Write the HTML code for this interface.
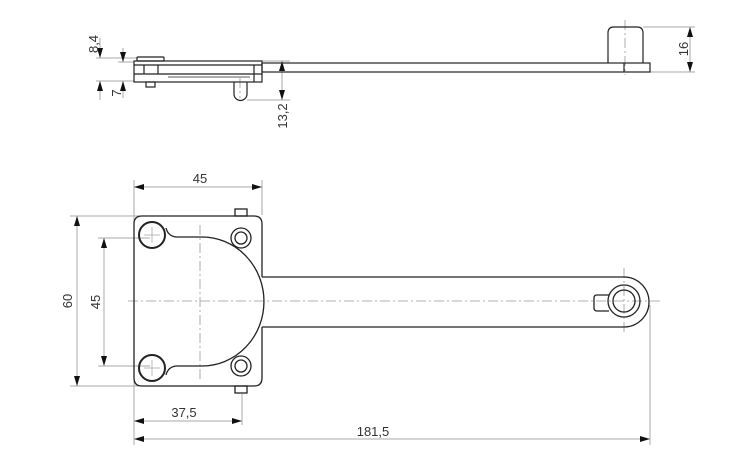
<!DOCTYPE html>
<html><head><meta charset="utf-8"><style>
html,body{margin:0;padding:0;background:#fff;}
svg{display:block;}
text{font-family:"Liberation Sans",sans-serif;font-size:13px;fill:#333;}
</style></head><body>
<svg width="750" height="473" viewBox="0 0 750 473" xmlns="http://www.w3.org/2000/svg">
<defs>
<marker id="a" viewBox="0 0 10 6" refX="10" refY="3" markerWidth="10" markerHeight="6" orient="auto-start-reverse" markerUnits="userSpaceOnUse"><path d="M0,0 L10,3 L0,6z" fill="#111"/></marker>
</defs>
<g stroke="#aaa" stroke-width="1" fill="none">
<line x1="96" y1="58" x2="138" y2="58"/><line x1="96" y1="81" x2="134" y2="81"/>
<line x1="118" y1="62" x2="134" y2="62"/>
<line x1="262" y1="61" x2="290" y2="61"/><line x1="247" y1="100" x2="290" y2="100"/>
<line x1="643" y1="27" x2="695" y2="27"/><line x1="650" y1="72" x2="695" y2="72"/>
<line x1="134" y1="180" x2="134" y2="445"/><line x1="262" y1="180" x2="262" y2="215"/>
<line x1="70" y1="216" x2="150" y2="216"/><line x1="70" y1="386" x2="150" y2="386"/>
<line x1="98" y1="238" x2="150" y2="238"/><line x1="98" y1="366" x2="150" y2="366"/>
<line x1="242" y1="394" x2="242" y2="425"/>
<line x1="650" y1="305" x2="650" y2="445"/>
</g>
<g stroke="#aaa" stroke-width="1" fill="none">
<line x1="100" y1="38" x2="100" y2="58" marker-end="url(#a)"/><line x1="100" y1="81" x2="100" y2="100" marker-start="url(#a)"/>
<line x1="123" y1="48" x2="123" y2="62" marker-end="url(#a)"/><line x1="123" y1="81" x2="123" y2="98" marker-start="url(#a)"/>
<line x1="282" y1="61" x2="282" y2="100" marker-start="url(#a)" marker-end="url(#a)"/>
<line x1="690" y1="27" x2="690" y2="72" marker-start="url(#a)" marker-end="url(#a)"/>
<line x1="134" y1="187" x2="262" y2="187" marker-start="url(#a)" marker-end="url(#a)"/>
<line x1="77" y1="216" x2="77" y2="386" marker-start="url(#a)" marker-end="url(#a)"/>
<line x1="104" y1="238" x2="104" y2="366" marker-start="url(#a)" marker-end="url(#a)"/>
<line x1="134" y1="421" x2="242" y2="421" marker-start="url(#a)" marker-end="url(#a)"/>
<line x1="134" y1="439" x2="650" y2="439" marker-start="url(#a)" marker-end="url(#a)"/>
</g>
<g stroke="#999" stroke-width="0.8" stroke-dasharray="10,3,2,3" fill="none">
<line x1="128" y1="301" x2="660" y2="301"/>
<line x1="200" y1="225" x2="200" y2="380"/>
<line x1="625" y1="20" x2="625" y2="75"/>
<line x1="624" y1="268" x2="624" y2="334"/>
<line x1="240" y1="78" x2="240" y2="98"/>
</g>
<g stroke="#aaa" stroke-width="0.8">
<line x1="144" y1="235" x2="160" y2="235"/><line x1="152" y1="227" x2="152" y2="243"/>
<line x1="144" y1="368" x2="160" y2="368"/><line x1="152" y1="360" x2="152" y2="376"/>
</g>
<g stroke="#222" stroke-width="1.2" fill="none">
<rect x="134" y="61" width="128" height="21"/>
<line x1="134" y1="65" x2="262" y2="65"/>
<line x1="134" y1="74" x2="262" y2="74"/>
<line x1="168" y1="77" x2="250" y2="77" stroke-width="0.8"/>
<rect x="137" y="57" width="27" height="4" rx="1"/>
<line x1="144" y1="65" x2="144" y2="74"/><line x1="158" y1="65" x2="158" y2="74"/>
<line x1="254" y1="65" x2="254" y2="82"/>
<rect x="146" y="82" width="9" height="5"/>
<path d="M234,82 V94 a6.5,6.5 0 0 0 13,0 V82"/>
<rect x="262" y="63" width="388" height="9"/>
<path d="M608,63 V33 q0,-6 6,-6 h23 q6,0 6,6 V63"/>
<line x1="624" y1="63" x2="624" y2="72"/>
</g>
<g stroke="#222" stroke-width="1.3" fill="none">
<rect x="235" y="209" width="12" height="7"/>
<rect x="235" y="386" width="12" height="7"/>
<path d="M142,216 H254 q8,0 8,8 V277 M262,327 V378 q0,8 -8,8 H142 q-8,0 -8,-8 V224 q0,-8 8,-8"/>
<path d="M262,277 H624 a24,24 0 0 1 0,50 H262"/>
<path d="M166,228 q2,8 10,9 H202 A62,64.5 0 0 1 202,366 H176 q-8,1 -10,9"/>
<circle cx="152" cy="235" r="13" stroke-width="2"/>
<circle cx="152" cy="368" r="13" stroke-width="2"/>
<circle cx="241" cy="238" r="10"/><circle cx="241" cy="238" r="6"/>
<circle cx="241" cy="366" r="10"/><circle cx="241" cy="366" r="6"/>
<circle cx="624" cy="301" r="16"/><circle cx="624" cy="301" r="11"/>
<path d="M609,295 H597 q-3,0 -3,3 V308 q0,3 3,3 H609"/>
</g>
<text transform="translate(98,44) rotate(-90)" text-anchor="middle">8,4</text>
<text transform="translate(121,93) rotate(-90)" text-anchor="middle">7</text>
<text transform="translate(287,116) rotate(-90)" text-anchor="middle">13,2</text>
<text transform="translate(688,49) rotate(-90)" text-anchor="middle">16</text>
<text x="200" y="183" text-anchor="middle">45</text>
<text transform="translate(72,301) rotate(-90)" text-anchor="middle">60</text>
<text transform="translate(100,302) rotate(-90)" text-anchor="middle">45</text>
<text x="184" y="417" text-anchor="middle">37,5</text>
<text x="373" y="436" text-anchor="middle">181,5</text>
</svg>
</body></html>
